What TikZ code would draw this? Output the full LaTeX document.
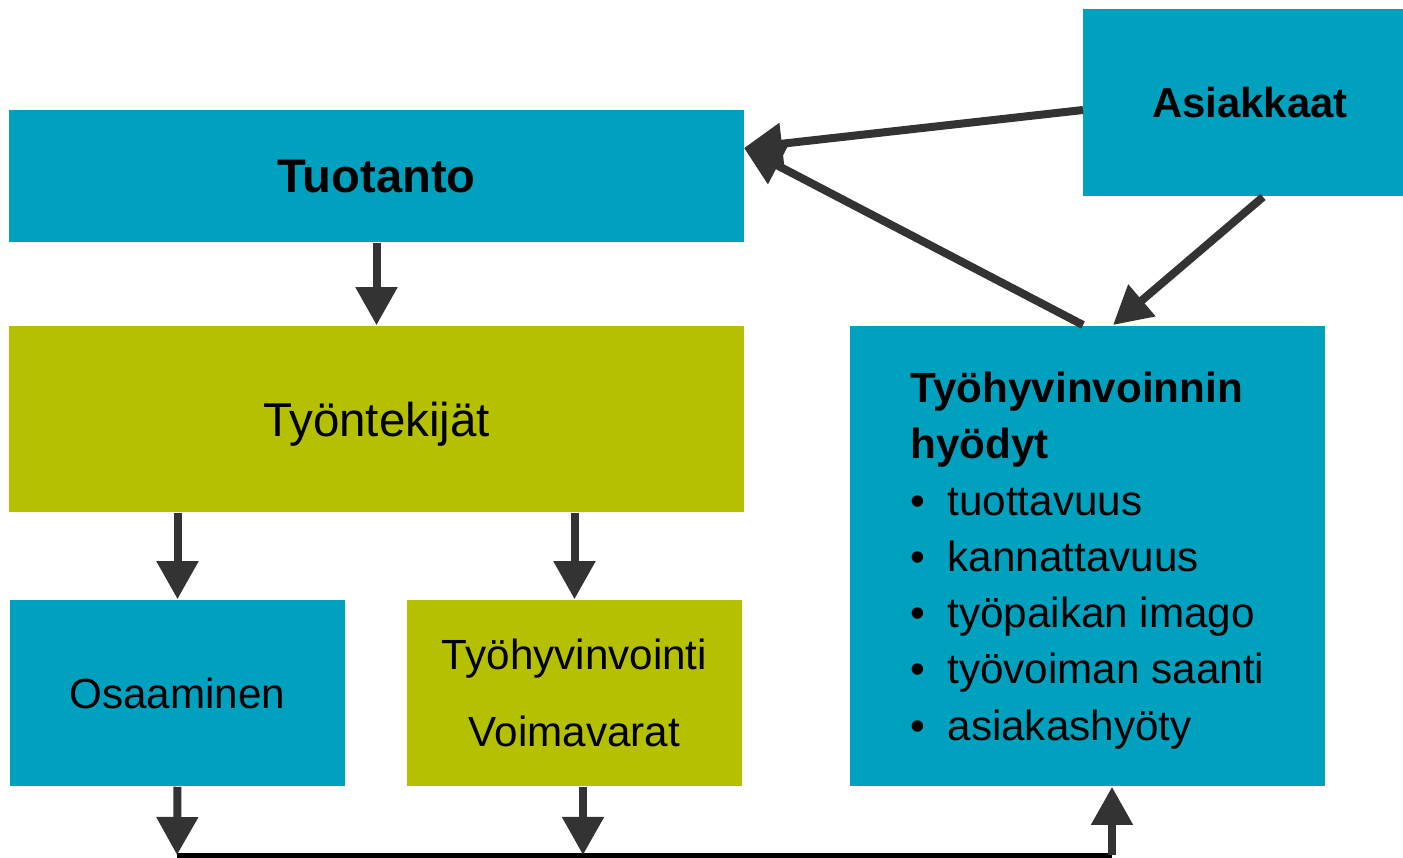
\documentclass[tikz,border=0pt]{standalone}
\usepackage{fontspec}
\setmainfont{Liberation Sans}
\usetikzlibrary{positioning,arrows.meta}
\definecolor{petrol}{RGB}{0,161,190}
\definecolor{oliivi}{RGB}{180,192,0}
\definecolor{nuoli}{RGB}{51,51,51}
\newcommand{\luetelma}{\makebox[10.5pt][l]{\textbullet}}

\begin{document}
\begin{tikzpicture}[
      x=0.01cm,y=-0.01cm,
      laatikko/.style={
        fill=petrol,
        inner sep=0pt,
        text=black,
        font=\fontsize{12}{16}\selectfont
      },
      vihrea/.style={
        laatikko,
        fill=oliivi
      },
      nuolet/.style={
        draw=nuoli,
        line width=0.08cm,
        -{Triangle[length=0.38cm,width=0.4cm]}
      },
      pohja/.style={
        draw=black,
        line width=0.05cm
      }
      ]
      \useasboundingbox (0,0) rectangle (1403,858);

      \node[laatikko,minimum width=7.35cm,minimum height=1.32cm,text depth=-1.7pt,
        font=\fontsize{13.4}{16}\selectfont\bfseries] at (376.5,176)
        (tuotanto) {Tuotanto};
      \node[laatikko,minimum width=3.34cm,minimum height=1.87cm,
        font=\fontsize{11.9}{16}\selectfont\bfseries] at (1250,102.5)
        (asiakkaat) {Asiakkaat};
      \node[vihrea,minimum width=7.35cm,minimum height=1.86cm,text depth=-0.6pt,
        font=\fontsize{13.5}{16}\selectfont] at (376.5,419)
        (tyontekijat) {Työntekijät};
      \node[laatikko,minimum width=3.35cm,minimum height=1.86cm,text depth=-1.1pt] at (177.5,693)
        (osaaminen) {Osaaminen};
      \node[vihrea,minimum width=3.35cm,minimum height=1.86cm,align=center,text depth=-1.1pt,
        font=\fontsize{12}{22}\selectfont] at (574.5,693)
        (voimavarat) {Työhyvinvointi\\Voimavarat};
      \node[laatikko,minimum width=4.75cm,minimum height=4.6cm,align=left,text depth=-0.9pt] at (1087.5,556)
        (hyodyt) {\textbf{Työhyvinvoinnin}\\\textbf{hyödyt}\\
          \luetelma tuottavuus\\\luetelma kannattavuus\\
          \luetelma työpaikan imago\\\luetelma työvoiman saanti\\
          \luetelma asiakashyöty};

      \coordinate (kohde) at (744,148);
      \coordinate (lahto1) at (1083,110);
      \coordinate (lahto2) at (1083,325);
      \coordinate (lahto3) at (1263,197);
      \coordinate (tulo3) at (1113,325);
      \coordinate (ala1) at (177,855);
      \coordinate (ala2) at (583,855);
      \coordinate (ala3) at (1112,855);

      \draw[nuolet] (tuotanto.south) -- (tyontekijat.north);
      \draw[nuolet] (tyontekijat.south -| osaaminen.north) -- (osaaminen.north);
      \draw[nuolet] (tyontekijat.south -| voimavarat.north) -- (voimavarat.north);
      \draw[nuolet] (lahto1) -- (kohde);
      \draw[nuolet] (lahto2) -- (kohde);
      \draw[nuolet] (lahto3) -- (tulo3);

      \draw[pohja] (ala1) -- (ala3);
      \draw[nuolet] (osaaminen.south) -- (ala1);
      \draw[nuolet] (voimavarat.south -| ala2) -- (ala2);
      \draw[nuolet] (ala3) -- (ala3 |- hyodyt.south);
    \end{tikzpicture}
\end{document}
